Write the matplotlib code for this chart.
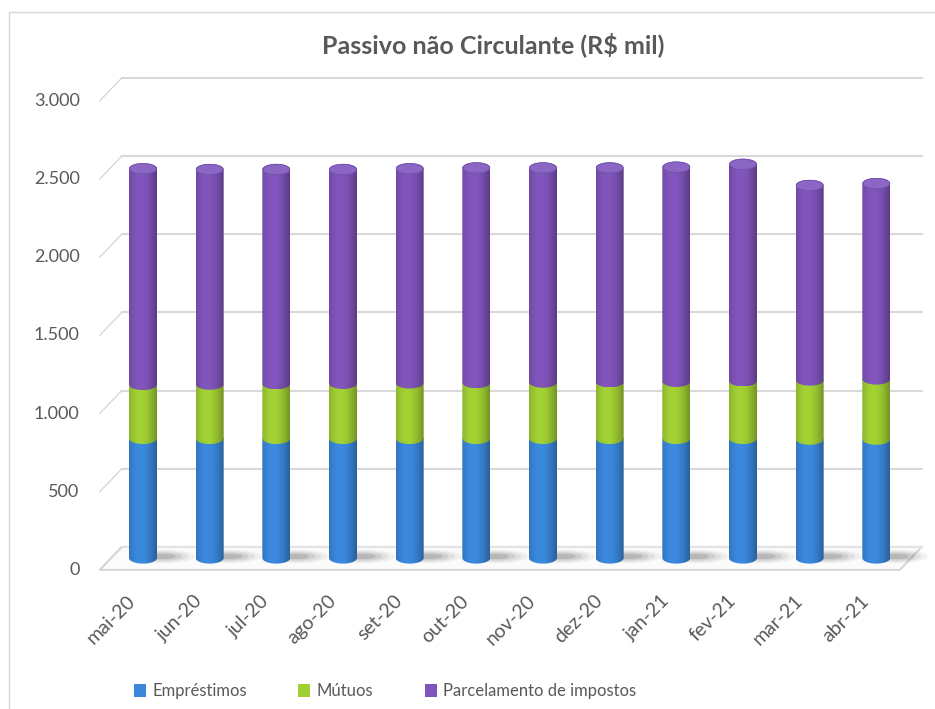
import numpy as np
import matplotlib
matplotlib.use("Agg")
import matplotlib.pyplot as plt
import matplotlib.transforms as mtransforms
from matplotlib.patches import Polygon, Ellipse, Rectangle, ConnectionPatch

plt.rcParams['font.family'] = ['Lato', 'DejaVu Sans']

# dados (R$ mil)
meses = ['mai-20', 'jun-20', 'jul-20', 'ago-20', 'set-20', 'out-20',
         'nov-20', 'dez-20', 'jan-21', 'fev-21', 'mar-21', 'abr-21']
emprestimos = [765, 765, 765, 765, 765, 765, 765, 765, 765, 765, 760, 760]
mutuos = [345, 347, 350, 352, 355, 357, 360, 362, 365, 368, 378, 385]
parcelamento = [1380, 1373, 1370, 1368, 1370, 1373, 1370, 1368, 1370, 1385, 1245, 1250]
series_nomes = ['Empréstimos', 'Mútuos', 'Parcelamento de impostos']
yticks = [0, 500, 1000, 1500, 2000, 2500, 3000]
ytick_labels = ['0', '500', '1.000', '1.500', '2.000', '2.500', '3.000']

cores = [(0.23, 0.53, 0.86), (0.63, 0.81, 0.20), (0.50, 0.33, 0.73)]
cor_texto = '#595959'

fig = plt.figure(figsize=(9.35, 7.09), dpi=100)
ax = fig.add_axes([0.1173, 0.2130, 0.8556, 0.6615])
ax.set_xlim(-0.5, len(meses) - 0.5)
ax.set_ylim(0, 3000)
ax.axis('off')

# planos de fundo e frente (efeito 3D)
back = mtransforms.offset_copy(ax.transData, fig=fig, x=12, y=11, units='dots')
front = mtransforms.offset_copy(ax.transData, fig=fig, x=-10, y=-12, units='dots')
lbl = mtransforms.offset_copy(ax.transData, fig=fig, x=-30, y=-12, units='dots')

x0, x1 = -0.5, len(meses) - 0.5
for v, t in zip(yticks, ytick_labels):
    if v > 0:
        ax.plot([x0, x1], [v, v], color='#d9d9d9', lw=1.5, transform=back,
                clip_on=False, zorder=0)
    cp = ConnectionPatch(xyA=(x0, v), coordsA=front, xyB=(x0, v), coordsB=back,
                         color='#d0d0d0', lw=0.8)
    fig.add_artist(cp)
    ax.text(x0, v, t, transform=lbl, ha='right', va='center', fontsize=13,
            color=cor_texto, clip_on=False)

# piso
fig.canvas.draw()
pts = [front.transform((x0, 0)), front.transform((x1, 0)),
       back.transform((x1, 0)), back.transform((x0, 0))]
floor = Polygon(pts, closed=True, transform=mtransforms.IdentityTransform(),
                facecolor='#fbfbfb', edgecolor='#d9d9d9', lw=1.5, zorder=0.5,
                clip_on=False)
ax.add_patch(floor)
ax.plot([x0, x1], [0, 0], color='#e3e3e3', lw=1.5, transform=back,
        clip_on=False, zorder=0.6)

w = 0.21     # meia largura do cilindro
e = 36       # meia altura da elipse (em unidades de dados)
u = np.linspace(-1, 1, 80)
shade = 0.60 + 0.42 * np.cos(np.clip((u + 0.2) / 1.25, -1.3, 1.3) * np.pi / 2.3)


def segmento(x, lo, hi, cor, topo=False):
    t = np.linspace(np.pi, 2 * np.pi, 40)
    verts = list(zip(x + w * np.cos(t), lo + e * np.sin(t)))
    if topo:
        t2 = np.linspace(0, np.pi, 40)
        verts += list(zip(x + w * np.cos(t2), hi + e * np.sin(t2)))
    else:
        verts += [(x + w, hi), (x - w, hi)]
    poly = Polygon(verts, closed=True, facecolor='none', edgecolor='none',
                   transform=ax.transData, clip_on=False)
    ax.add_patch(poly)
    img = np.clip(np.array(cor)[None, :] * shade[:, None], 0, 1)[None, :, :]
    im = ax.imshow(img, extent=(x - w, x + w, lo - e, hi + e), aspect='auto',
                   interpolation='bilinear', zorder=3)
    im.set_clip_box(fig.bbox)
    im.set_clip_path(poly)


for i in range(len(meses)):
    # sombra no piso
    for k, a in enumerate([0.06, 0.08, 0.10, 0.14]):
        s = 1 - k * 0.2
        ax.add_patch(Ellipse((i + 0.3, 10), 0.95 * s, 85 * s, facecolor='#303030',
                             edgecolor='none', alpha=a, zorder=1, clip_on=False))
    base = 0
    vals = [emprestimos[i], mutuos[i], parcelamento[i]]
    for j, v in enumerate(vals):
        segmento(i, base, base + v, cores[j], topo=(j == 2))
        base += v
    ax.add_patch(Ellipse((i, base), 2 * w * 0.96, 2 * e * 0.92,
                         facecolor='#8b66c4', edgecolor='#7452ad', lw=0.6, zorder=4))

ax.set_xlim(-0.5, len(meses) - 0.5)
ax.set_ylim(0, 3000)

# rótulos do eixo x
xlbl = mtransforms.offset_copy(ax.transData, fig=fig, x=-10, y=-40, units='dots')
for i, m in enumerate(meses):
    ax.text(i, 0, m, transform=xlbl, rotation=45, rotation_mode='anchor',
            ha='right', va='center', fontsize=14, color=cor_texto, clip_on=False)

fig.text(0.527, 0.937, 'Passivo não Circulante (R$ mil)', ha='center', va='center',
         fontsize=18, fontweight='bold', color=cor_texto)

handles = [Rectangle((0, 0), 1, 1, facecolor=c, edgecolor='none') for c in cores]
fig.legend(handles, series_nomes, loc='center', bbox_to_anchor=(0.412, 0.025),
           ncol=3, frameon=False, fontsize=12, handlelength=0.7, handleheight=0.8,
           handletextpad=0.4, columnspacing=3.1, labelcolor=cor_texto)

# borda do gráfico
fig.add_artist(Rectangle((9 / 935, -0.1), 1, 1.1 - 12 / 709, transform=fig.transFigure,
                         facecolor='none', edgecolor='#d9d9d9', lw=1))

fig.savefig('out.png', dpi=100)
